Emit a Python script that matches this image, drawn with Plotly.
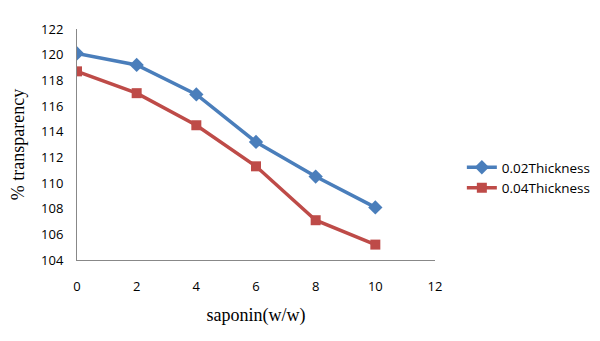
import plotly.graph_objects as go

saponin = [0, 2, 4, 6, 8, 10]
thick_002 = [120.1, 119.2, 116.9, 113.2, 110.5, 108.1]
thick_004 = [118.7, 117.0, 114.5, 111.3, 107.1, 105.2]
x_ticks = [0, 2, 4, 6, 8, 10, 12]
y_ticks = [104, 106, 108, 110, 112, 114, 116, 118, 120, 122]

fig = go.Figure()
fig.add_trace(go.Scatter(x=saponin, y=thick_002, mode="lines+markers", name="0.02Thickness",
                         line=dict(color="#4A7EBB", width=3.5),
                         marker=dict(symbol="diamond", size=11, color="#4A7EBB")))
fig.add_trace(go.Scatter(x=saponin, y=thick_004, mode="lines+markers", name="0.04Thickness",
                         line=dict(color="#BE4B48", width=3.5),
                         marker=dict(symbol="square", size=10, color="#BE4B48")))

fig.update_layout(
    width=600, height=341,
    margin=dict(l=69, r=173, t=21, b=89, autoexpand=False),
    paper_bgcolor="white", plot_bgcolor="white",
    font=dict(family="Open Sans, Liberation Sans, sans-serif", size=13, color="black"),
    showlegend=True,
    legend=dict(x=1.075, y=0.355, xanchor="left", yanchor="middle",
                font=dict(family="Open Sans, Liberation Sans, sans-serif", size=13.5),
                tracegroupgap=6, itemwidth=30),
    xaxis=dict(range=[0, 12], tickvals=x_ticks, showgrid=False, zeroline=False, automargin=False,
               showline=True, linecolor="#888888", linewidth=1, ticks="", ticklen=0,
               title=dict(text="saponin(w/w)", font=dict(family="Liberation Serif, Times New Roman, serif", size=18), standoff=14)),
    yaxis=dict(range=[104, 122], tickvals=y_ticks, showgrid=False, zeroline=False, automargin=False,
               showline=True, linecolor="#888888", linewidth=1, ticks="", ticklen=0,
               title=dict(text="% transparency", font=dict(family="Liberation Serif, Times New Roman, serif", size=18), standoff=16)),
)
fig.update_xaxes(ticklabelstandoff=14)
fig.update_yaxes(ticklabelstandoff=10)
fig.write_html("out.html")
